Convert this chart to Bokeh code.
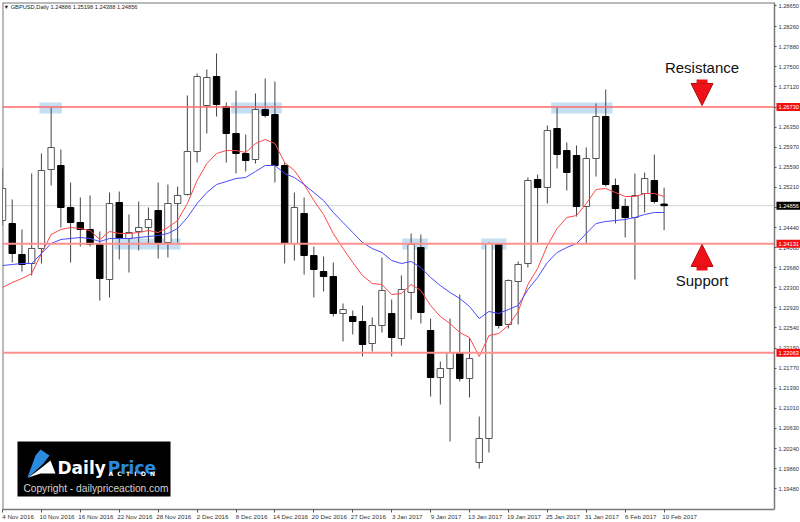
from bokeh.plotting import figure
from bokeh.models import (Range1d, FixedTicker, NumeralTickFormatter, Label, Arrow, NormalHead, LinearAxis)
from bokeh.embed import file_html
from bokeh.resources import INLINE
import numpy as np

opens = [1.24574,1.24517,1.23928,1.23757,1.24042,1.25543,1.25619,1.24821,1.24536,1.24403,
         1.24118,1.23453,1.24916,1.24232,1.24365,1.24441,1.24764,1.24156,1.24897,1.25068,
         1.25885,1.26759,1.27310,1.26740,1.26227,1.25847,1.25733,1.26683,1.26588,1.25619,
         1.24137,1.24707,1.23909,1.23605,1.23510,1.22807,1.22750,1.22655,1.22237,1.22579,
         1.22807,1.22332,1.23206,1.24061,1.22484,1.21591,1.21762,1.22066,1.21572,1.19976,
         1.20432,1.24118,1.22598,1.23415,1.23757,1.25353,1.25201,1.26322,1.25904,1.25809,
         1.24840,1.25752,1.26550,1.25239,1.24840,1.24631,1.25087,1.25334,1.24886]
closes = [1.25182,1.23947,1.23738,1.24042,1.25524,1.25961,1.24821,1.24536,1.24403,1.24118,
          1.23472,1.24897,1.24232,1.24346,1.24441,1.24593,1.24156,1.24897,1.25049,1.25885,
          1.27310,1.27291,1.26778,1.26227,1.25847,1.25714,1.26683,1.26569,1.25619,1.24137,
          1.24821,1.23909,1.23643,1.23510,1.22807,1.22883,1.22655,1.22218,1.22579,1.23244,
          1.22351,1.23263,1.24118,1.22826,1.21591,1.21762,1.22066,1.21572,1.21952,1.20432,
          1.24137,1.22579,1.23434,1.23738,1.25334,1.25201,1.26284,1.25828,1.25486,1.24840,
          1.25752,1.26550,1.25258,1.24802,1.24631,1.25049,1.25372,1.24935,1.24856]
highs = [1.25562,1.24973,1.24403,1.25467,1.25847,1.26721,1.25923,1.25296,1.25011,1.25049,
         1.24365,1.25106,1.25125,1.24688,1.24935,1.24821,1.25296,1.25258,1.25220,1.26949,
         1.27367,1.27443,1.27747,1.26816,1.27044,1.26208,1.26987,1.27272,1.27215,1.25676,
         1.25106,1.25011,1.24080,1.23890,1.23776,1.22997,1.22864,1.22959,1.22731,1.23871,
         1.23073,1.23529,1.24327,1.24308,1.22712,1.21895,1.22712,1.23168,1.22332,1.20850,
         1.24156,1.24137,1.23453,1.23795,1.25391,1.25448,1.26379,1.26721,1.26056,1.25999,
         1.25961,1.26797,1.27063,1.25372,1.24992,1.25467,1.25486,1.25828,1.25198]
lows = [1.24479,1.23776,1.23605,1.23529,1.23757,1.25239,1.24441,1.23776,1.24080,1.24080,
        1.23054,1.23111,1.23833,1.23586,1.24004,1.24137,1.23852,1.23871,1.24156,1.25049,
        1.25676,1.26227,1.26550,1.25676,1.25467,1.25505,1.25657,1.26531,1.25296,1.23757,
        1.23814,1.23548,1.23111,1.23225,1.22750,1.22275,1.22408,1.21990,1.22085,1.22446,
        1.21990,1.22199,1.22693,1.22617,1.21230,1.21078,1.20375,1.21515,1.21211,1.19862,
        1.20166,1.22522,1.22522,1.22598,1.23681,1.24156,1.24897,1.25562,1.25144,1.24650,
        1.24118,1.25410,1.25220,1.24517,1.24251,1.23453,1.24726,1.24897,1.24388]
ma_red = [1.23301,1.23396,1.23472,1.23567,1.23947,1.24308,1.24403,1.24441,1.24422,1.24384,
          1.24213,1.24365,1.24327,1.24327,1.24346,1.24384,1.24346,1.24441,1.24574,1.24897,
          1.25334,1.25657,1.25847,1.25904,1.25904,1.25866,1.26037,1.26113,1.26037,1.25676,
          1.25524,1.25258,1.24954,1.24688,1.24327,1.24042,1.23776,1.23529,1.23377,1.23358,
          1.23168,1.23187,1.23358,1.23244,1.22959,1.22750,1.22617,1.22446,1.22351,1.21990,
          1.22389,1.22427,1.22579,1.22845,1.23358,1.23662,1.24099,1.24422,1.24631,1.24669,
          1.24897,1.25163,1.25182,1.25106,1.25030,1.25030,1.25087,1.25087,1.25030]
ma_blue = [1.23719,1.23738,1.23757,1.23757,1.23947,1.24137,1.24213,1.24232,1.24251,1.24232,
           1.24175,1.24232,1.24232,1.24232,1.24251,1.24270,1.24289,1.24327,1.24422,1.24631,
           1.24897,1.25106,1.25258,1.25315,1.25372,1.25391,1.25505,1.25619,1.25619,1.25467,
           1.25391,1.25258,1.25106,1.24954,1.24726,1.24536,1.24346,1.24156,1.24042,1.23966,
           1.23814,1.23757,1.23795,1.23681,1.23491,1.23339,1.23206,1.23092,1.22940,1.22712,
           1.22845,1.22807,1.22883,1.22959,1.23263,1.23491,1.23776,1.23966,1.24061,1.24137,
           1.24327,1.24517,1.24555,1.24574,1.24593,1.24631,1.24688,1.24726,1.24726]

date_labels = ["4 Nov 2016","10 Nov 2016","16 Nov 2016","22 Nov 2016","28 Nov 2016","2 Dec 2016",
               "8 Dec 2016","14 Dec 2016","20 Dec 2016","27 Dec 2016","3 Jan 2017","9 Jan 2017",
               "13 Jan 2017","19 Jan 2017","25 Jan 2017","31 Jan 2017","6 Feb 2017","10 Feb 2017"]
date_ticks = list(range(0, 69, 4))
price_ticks = [1.28650,1.28260,1.27880,1.27500,1.27120,1.26730,1.26350,1.25970,1.25590,1.25210,
               1.24830,1.24440,1.24060,1.23680,1.23300,1.22920,1.22540,1.22150,1.21770,1.21390,
               1.21010,1.20630,1.20240,1.19860,1.19480]
level_prices = [1.26730, 1.24131, 1.22063]
level_text = ["1.26730", "1.24131", "1.22063"]
current_price = 1.24856
zone_left = [3.8, 23.5, 11.5, 41.1, 49.2, 56.4]
zone_right = [6.1, 28.7, 18.3, 43.7, 51.8, 62.7]
zone_top = [1.26816, 1.26816, 1.24232, 1.24232, 1.24232, 1.26816]
zone_bottom = [1.26607, 1.26607, 1.24023, 1.24023, 1.24023, 1.26607]
title_text = "\u25BC  GBPUSD,Daily  1.24886 1.25198 1.24388 1.24856"

x = np.arange(len(opens))
o, c, h, l = map(np.array, (opens, closes, highs, lows))
up = c >= o

XSTART, XEND, AXIS_X = 0.0, 82.02, 79.34
YBOT, YTOP = 1.19083, 1.28716
LABEL_SHIFT = 1.6
FRAME = "#777777"

p = figure(frame_width=798, frame_height=507, output_backend="svg", toolbar_location=None,
           x_range=Range1d(XSTART, XEND), y_range=Range1d(YBOT, YTOP),
           x_axis_location=None, y_axis_location=None,
           min_border_left=2, min_border_top=2, min_border_right=0, min_border_bottom=0)
p.grid.visible = False
p.outline_line_color = None
p.background_fill_color = "white"

# date axis: labels start at the tick, so the axis runs on a shifted range
p.extra_x_ranges = {"labels": Range1d(XSTART - LABEL_SHIFT, XEND - LABEL_SHIFT)}
date_axis = LinearAxis(x_range_name="labels")
p.add_layout(date_axis, "below")
date_axis.ticker = FixedTicker(ticks=date_ticks, minor_ticks=[t - LABEL_SHIFT for t in date_ticks])
date_axis.major_label_overrides = dict(zip(date_ticks, date_labels))
date_axis.bounds = (XSTART - LABEL_SHIFT, AXIS_X - LABEL_SHIFT)
date_axis.axis_line_color = FRAME
date_axis.axis_line_width = 1.5
date_axis.major_tick_line_color = None
date_axis.major_tick_in = 0
date_axis.major_tick_out = 3
date_axis.minor_tick_line_color = "#555555"
date_axis.minor_tick_in = 0
date_axis.minor_tick_out = 3
date_axis.major_label_standoff = 0
date_axis.major_label_text_font = "Liberation Sans"
date_axis.major_label_text_font_size = "6.2px"
date_axis.major_label_text_color = "#333333"

# price axis stays inside the plot area so the price tags may lie on top of it
price_axis = LinearAxis(fixed_location=AXIS_X)
p.add_layout(price_axis, "right")
price_axis.ticker = FixedTicker(ticks=price_ticks)
price_axis.formatter = NumeralTickFormatter(format="0.00000")
price_axis.axis_line_color = FRAME
price_axis.axis_line_width = 1.5
price_axis.major_tick_line_color = "#555555"
price_axis.minor_tick_line_color = None
price_axis.major_tick_in = 0
price_axis.major_tick_out = 2
price_axis.major_label_standoff = 2
price_axis.major_label_text_font = "Liberation Sans"
price_axis.major_label_text_font_size = "5.7px"
price_axis.major_label_text_color = "#333333"

# frame top and left
p.line([XSTART, AXIS_X], [YTOP, YTOP], line_color=FRAME, line_width=2)
p.line([XSTART, XSTART], [YBOT, YTOP], line_color=FRAME, line_width=2)

# highlighted zones
p.quad(left=zone_left, right=zone_right, top=zone_top, bottom=zone_bottom,
       fill_color="#c5dff2", line_color=None)
# current price line
p.line([XSTART, AXIS_X], [current_price, current_price], line_color="#d2d2d2", line_width=1)

# candles
p.segment(x, l, x, h, line_color="#444444", line_width=1)
p.vbar(x[up], 0.66, o[up], c[up], fill_color="white", line_color="#555555", line_width=1)
p.vbar(x[~up], 0.66, o[~up], c[~up], fill_color="black", line_color="black", line_width=1)

# averages
p.line(x, ma_red, line_color="#ff4848", line_width=1)
p.line(x, ma_blue, line_color="#4a4aff", line_width=1)

# support and resistance
for lv, col, w in zip(level_prices, ["#ff6a6a", "#ff9090", "#ff9090"], [1.5, 2, 2]):
    p.line([XSTART, AXIS_X], [lv, lv], line_color=col, line_width=w)

# arrows
arrow_col = "#ee1118"
p.add_layout(Arrow(end=NormalHead(size=22, fill_color=arrow_col, line_color="#b01010", line_width=1),
                   x_start=71.9, y_start=1.27253, x_end=71.9, y_end=1.26759,
                   line_color=arrow_col, line_width=11))
p.add_layout(Arrow(end=NormalHead(size=22, fill_color=arrow_col, line_color="#b01010", line_width=1),
                   x_start=71.9, y_start=1.23624, x_end=71.9, y_end=1.24118,
                   line_color=arrow_col, line_width=11))

for txt, yy in (("Resistance", 1.27481), ("Support", 1.23434)):
    p.add_layout(Label(x=71.9, y=yy, text=txt, text_align="center", text_baseline="middle",
                       text_font="Liberation Sans", text_font_size="15px", text_color="#111111"))

# title
p.add_layout(Label(x=0.1, y=1.28630, text=title_text, text_baseline="middle",
                   text_font="Liberation Sans", text_font_size="5.7px", text_color="#222222"))

# price tags
for lv, txt, bg in zip(level_prices + [current_price], level_text + ["1.24856"],
                       ["#f01010"] * 3 + ["black"]):
    p.add_layout(Label(x=79.55, y=lv, text=txt, text_baseline="middle", text_font="Liberation Sans",
                       text_font_size="5.7px", text_color="white", background_fill_color=bg,
                       padding=2, level="overlay"))

# logo
p.quad(left=[1.54], right=[17.27], top=[1.20375], bottom=[1.19330], fill_color="black", line_color=None)
p.patch([2.57, 3.39, 3.91, 4.83, 4.21, 2.67], [1.19691, 1.20109, 1.20223, 1.20109, 1.19957, 1.19691],
        fill_color="#2b8ae0", line_color=None)
p.patch([2.67, 3.91, 4.93, 5.45, 3.91], [1.19691, 1.19862, 1.20014, 1.19767, 1.19767],
        fill_color="white", line_color=None)
p.add_layout(Label(x=5.65, y=1.19865, text="Daily", text_font="DejaVu Sans", text_font_style="bold",
                   text_font_size="17px", text_color="white", text_baseline="alphabetic"))
p.add_layout(Label(x=10.82, y=1.19865, text="Price", text_font="DejaVu Sans", text_font_style="bold",
                   text_font_size="17px", text_color="#2b8ae0", text_baseline="alphabetic"))
p.add_layout(Label(x=10.9, y=1.19770, text="A\u00a0\u00a0C\u00a0\u00a0T\u00a0\u00a0I\u00a0\u00a0O\u00a0\u00a0N",
                   text_font="DejaVu Sans", text_font_style="bold", text_font_size="6px", text_color="white",
                   text_baseline="alphabetic", level="overlay"))
p.add_layout(Label(x=2.15, y=1.19480, text="Copyright - dailypriceaction.com", text_font="Liberation Sans",
                   text_font_size="10.2px", text_color="#d4d4d4", text_baseline="middle"))

open("out.html", "w").write(file_html(p, INLINE))
